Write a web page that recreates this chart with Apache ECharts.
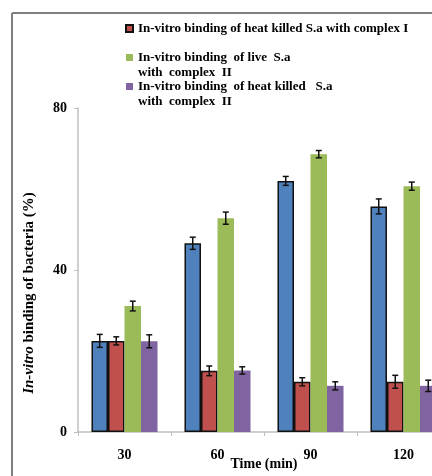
<!DOCTYPE html>
<html>
<head>
<meta charset="utf-8">
<script src="https://cdn.jsdelivr.net/npm/echarts@6/dist/echarts.min.js"></script>
<style>html,body{margin:0;padding:0;background:#fff;}#c{width:432px;height:476px;}</style>
</head>
<body>
<div id="c"></div>
<script>
const categories = ['30', '60', '90', '120'];
const seriesNames = [
  'In-vitro binding of live S.a with complex I',
  'In-vitro binding of heat killed S.a with complex I',
  'In-vitro binding  of live  S.a\nwith  complex  II',
  'In-vitro binding  of heat killed   S.a\nwith  complex  II'
];
const blueValues = [22.5, 46.6, 62.0, 55.7];
const blueErrors = [1.6, 1.5, 1.1, 1.85];
const redValues = [22.5, 15.1, 12.4, 12.4];
const redErrors = [1.0, 1.2, 1.0, 1.6];
const greenValues = [31.1, 52.8, 68.6, 60.7];
const greenErrors = [1.2, 1.5, 0.9, 1.0];
const purpleValues = [22.4, 15.2, 11.4, 11.4];
const purpleErrors = [1.6, 0.9, 1.0, 1.4];
const yTicks = [0, 40, 80];

const FONT = '"Liberation Serif", "Times New Roman", serif';
const colors = ['#4F81BD', '#C0504D', '#9BBB59', '#8064A2'];
const allValues = [blueValues, redValues, greenValues, purpleValues];
const allErrors = [blueErrors, redErrors, greenErrors, purpleErrors];
const bordered = [true, true, false, false];
const GAP = 0.29;

const series = [];
allValues.forEach((vals, i) => {
  series.push({
    name: seriesNames[i],
    type: 'bar',
    data: vals,
    barGap: '0%',
    barCategoryGap: (GAP * 100) + '%',
    itemStyle: {
      color: colors[i],
      borderColor: bordered[i] ? '#111' : colors[i],
      borderWidth: bordered[i] ? 1.5 : 0
    },
    emphasis: { disabled: true }
  });
});
allValues.forEach((vals, i) => {
  series.push({
    type: 'custom',
    silent: true,
    z: 10,
    data: vals.map((v, k) => [k, v, allErrors[i][k]]),
    renderItem: function (params, api) {
      const k = api.value(0), v = api.value(1), e = api.value(2);
      const cw = api.size([1, 0])[0];
      const bw = cw * (1 - GAP) / 4;
      const cx = api.coord([k, v])[0] + (i - 1.5) * bw;
      const yTop = api.coord([k, v + e])[1];
      const yBot = api.coord([k, v - e])[1];
      const cap = 3;
      const st = { stroke: '#111', lineWidth: 1.5 };
      return {
        type: 'group',
        children: [
          { type: 'line', shape: { x1: cx, y1: yTop, x2: cx, y2: yBot }, style: st },
          { type: 'line', shape: { x1: cx - cap, y1: yTop, x2: cx + cap, y2: yTop }, style: st },
          { type: 'line', shape: { x1: cx - cap, y1: yBot, x2: cx + cap, y2: yBot }, style: st }
        ]
      };
    }
  });
});

const legendBase = {
  icon: 'rect',
  itemWidth: 7,
  itemHeight: 7,
  itemGap: 0,
  padding: 0,
  selectedMode: false,
  orient: 'vertical',
  textStyle: { fontFamily: FONT, fontWeight: 'bold', fontSize: 13, color: '#000', lineHeight: 15 }
};

const chart = echarts.init(document.getElementById('c'), null, { renderer: 'canvas' });
chart.setOption({
  animation: false,
  backgroundColor: '#fff',
  grid: { left: 78, top: 108, width: 372, height: 324, containLabel: false, outerBoundsMode: 'none' },
  legend: [
    Object.assign({}, legendBase, { data: [seriesNames[1]], left: 125, top: 21 }),
    Object.assign({}, legendBase, {
      data: [seriesNames[2]], left: 126, top: 35,
      formatter: function (n) { return '\n' + n; }
    }),
    Object.assign({}, legendBase, {
      data: [seriesNames[3]], left: 126, top: 64,
      formatter: function (n) { return '\n' + n; }
    })
  ],
  xAxis: {
    type: 'category',
    data: categories,
    name: 'Time (min)',
    nameLocation: 'middle',
    nameGap: 25,
    nameMoveOverlap: false,
    nameTextStyle: { fontFamily: FONT, fontWeight: 'bold', fontSize: 14, color: '#000' },
    axisLine: { lineStyle: { color: '#BFBFBF', width: 1.5 } },
    axisTick: { show: true, length: 4, lineStyle: { color: '#BFBFBF' } },
    axisLabel: { fontFamily: FONT, fontWeight: 'bold', fontSize: 14, color: '#000', margin: 16 }
  },
  yAxis: {
    type: 'value',
    min: yTicks[0],
    max: yTicks[yTicks.length - 1],
    interval: yTicks[1] - yTicks[0],
    name: '{i|In-vitro} binding of bacteria (%)',
    nameLocation: 'middle',
    nameRotate: 90,
    nameGap: 41,
    nameMoveOverlap: false,
    nameTextStyle: {
      fontFamily: FONT, fontWeight: 'bold', fontSize: 15, color: '#000',
      padding: [0, 46, 0, 0],
      rich: { i: { fontFamily: FONT, fontWeight: 'bold', fontStyle: 'italic', fontSize: 15, color: '#000' } }
    },
    axisLine: { show: true, lineStyle: { color: '#BFBFBF', width: 1.5 } },
    axisTick: { show: true, length: 4, lineStyle: { color: '#BFBFBF' } },
    splitLine: { show: false },
    axisLabel: { fontFamily: FONT, fontWeight: 'bold', fontSize: 14, color: '#000', margin: 11 }
  },
  graphic: [
    { type: 'line', shape: { x1: 12, y1: 13, x2: 12, y2: 476 }, style: { stroke: '#7F7F7F', lineWidth: 2 }, silent: true },
    { type: 'line', shape: { x1: 12, y1: 13, x2: 432, y2: 13 }, style: { stroke: '#7F7F7F', lineWidth: 2 }, silent: true }
  ],
  series: series
});
</script>
</body>
</html>
